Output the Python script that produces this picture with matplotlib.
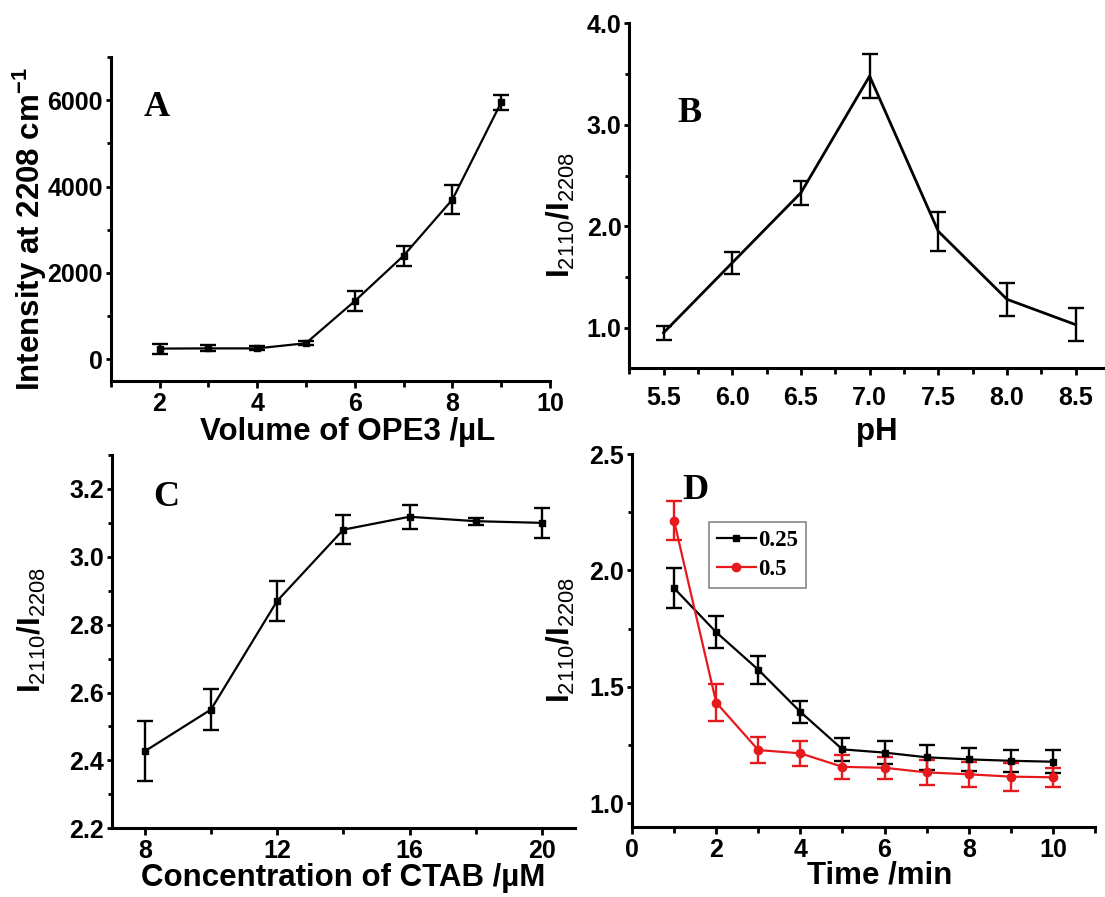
import numpy as np
import matplotlib
matplotlib.use("Agg")
import matplotlib.pyplot as plt
from matplotlib.lines import Line2D
from matplotlib.ticker import MultipleLocator, FormatStrFormatter

plt.rcParams['font.family'] = ['Liberation Sans', 'DejaVu Sans']
plt.rcParams['font.weight'] = 'bold'
plt.rcParams['mathtext.fontset'] = 'custom'
plt.rcParams['mathtext.rm'] = 'Liberation Sans:bold'
plt.rcParams['mathtext.bf'] = 'Liberation Sans:bold'
plt.rcParams['mathtext.it'] = 'Liberation Sans:bold'

# panel A: OPE3 volume
vol = [2, 3, 4, 5, 6, 7, 8, 9]
vol_int = [250, 255, 255, 375, 1350, 2400, 3700, 5950]
vol_err = [115, 70, 45, 40, 240, 230, 330, 170]

# panel B: pH
ph = [5.5, 6.0, 6.5, 7.0, 7.5, 8.0, 8.5]
ph_ratio = [0.95, 1.64, 2.33, 3.48, 1.95, 1.28, 1.03]
ph_err = [0.07, 0.11, 0.12, 0.22, 0.19, 0.16, 0.16]

# panel C: CTAB concentration
ctab = [8, 10, 12, 14, 16, 18, 20]
ctab_ratio = [2.427, 2.55, 2.87, 3.08, 3.118, 3.105, 3.10]
ctab_err = [0.088, 0.06, 0.06, 0.043, 0.035, 0.01, 0.044]

# panel D: time, two series
t = [1, 2, 3, 4, 5, 6, 7, 8, 9, 10]
d025 = [1.924, 1.735, 1.574, 1.393, 1.232, 1.218, 1.198, 1.189, 1.183, 1.179]
d025_err = [0.086, 0.068, 0.06, 0.047, 0.05, 0.048, 0.053, 0.049, 0.048, 0.049]
d05 = [2.213, 1.433, 1.229, 1.215, 1.157, 1.153, 1.133, 1.125, 1.115, 1.112]
d05_err = [0.084, 0.08, 0.055, 0.055, 0.052, 0.047, 0.054, 0.054, 0.06, 0.04]
d_labels = ['0.25', '0.5']
d_colors = ['black', '#e8191c']

W, H = 1105, 897
fig = plt.figure(figsize=(W / 100, H / 100), dpi=100)


def make_ax(x0, x1, y0, y1):
    ax = fig.add_axes([x0 / W, 1 - y1 / H, (x1 - x0) / W, (y1 - y0) / H])
    for s in ['top', 'right']:
        ax.spines[s].set_visible(False)
    for s in ['left', 'bottom']:
        ax.spines[s].set_linewidth(2.2)
    ax.tick_params(which='both', direction='out', width=2, labelsize=18)
    ax.tick_params(axis='x', which='major', length=5, pad=3)
    ax.tick_params(axis='x', which='minor', length=4)
    ax.tick_params(axis='y', which='major', length=3.5, pad=2)
    ax.tick_params(axis='y', which='minor', length=3)
    return ax


ratio_label = r'$\mathbf{I}_{\mathregular{2110}}\mathbf{/I}_{\mathregular{2208}}$'
lab_fs = 22.5
let_fs = 26
serif = ['Liberation Serif', 'DejaVu Serif']
eb = dict(capsize=5.5, capthick=1.7, elinewidth=1.7)

# A
axA = make_ax(110.7, 550, 57, 381)
axA.errorbar(vol, vol_int, yerr=vol_err, color='black', lw=1.6, marker='s', ms=4, **eb)
axA.set_xlim(1, 10)
axA.set_ylim(-500, 7000)
axA.xaxis.set_major_locator(MultipleLocator(2))
axA.xaxis.set_minor_locator(MultipleLocator(1))
axA.yaxis.set_major_locator(MultipleLocator(2000))
axA.yaxis.set_minor_locator(MultipleLocator(1000))
axA.set_xlabel('Volume of OPE3 /µL', fontsize=lab_fs, fontweight='bold')
axA.set_ylabel(r'Intensity at 2208 cm$^{\mathregular{-1}}$', fontsize=lab_fs, fontweight='bold')
axA.xaxis.set_label_coords(0.54, -0.11)
axA.yaxis.set_label_coords(-0.14, 0.47)
axA.text(0.105, 0.843, 'A', transform=axA.transAxes, fontsize=let_fs, fontweight='bold',
         family=serif, ha='center', va='center')

# B
axB = make_ax(629.2, 1110, 23.3, 368.3)
axB.errorbar(ph, ph_ratio, yerr=ph_err, color='black', lw=2, **eb)
axB.set_xlim(5.25, 8.75)
axB.set_ylim(0.6, 4.0)
axB.xaxis.set_major_locator(MultipleLocator(0.5))
axB.xaxis.set_minor_locator(MultipleLocator(0.25))
axB.yaxis.set_major_locator(MultipleLocator(1.0))
axB.yaxis.set_minor_locator(MultipleLocator(0.5))
axB.xaxis.set_major_formatter(FormatStrFormatter('%.1f'))
axB.yaxis.set_major_formatter(FormatStrFormatter('%.1f'))
axB.tick_params(axis='x', which='major', pad=8)
axB.set_xlabel('pH', fontsize=lab_fs, fontweight='bold')
axB.set_ylabel(ratio_label, fontsize=lab_fs)
axB.xaxis.set_label_coords(0.515, -0.14)
axB.yaxis.set_label_coords(-0.1085, 0.444)
axB.text(0.126, 0.74, 'B', transform=axB.transAxes, fontsize=let_fs, fontweight='bold',
         family=serif, ha='center', va='center')

# C
axC = make_ax(111.7, 575, 455, 828.3)
axC.errorbar(ctab, ctab_ratio, yerr=ctab_err, color='black', lw=1.6, marker='s', ms=5, **eb)
axC.set_xlim(7, 21)
axC.set_ylim(2.2, 3.3)
axC.xaxis.set_major_locator(MultipleLocator(4))
axC.xaxis.set_minor_locator(MultipleLocator(2))
axC.yaxis.set_major_locator(MultipleLocator(0.2))
axC.yaxis.set_minor_locator(MultipleLocator(0.1))
axC.yaxis.set_major_formatter(FormatStrFormatter('%.1f'))
axC.set_xlabel('Concentration of CTAB /µM', fontsize=lab_fs, fontweight='bold')
axC.set_ylabel(ratio_label, fontsize=lab_fs)
axC.xaxis.set_label_coords(0.499, -0.092)
axC.yaxis.set_label_coords(-0.1375, 0.531)
axC.text(0.117, 0.887, 'C', transform=axC.transAxes, fontsize=let_fs, fontweight='bold',
         family=serif, ha='center', va='center')

# D
axD = make_ax(632, 1095, 454, 826.7)
axD.errorbar(t, d025, yerr=d025_err, color=d_colors[0], lw=1.6, marker='s', ms=5, **eb)
axD.errorbar(t, d05, yerr=d05_err, color=d_colors[1], lw=1.6, marker='o', ms=6, **eb)
axD.set_xlim(0, 11)
axD.set_ylim(0.9, 2.5)
axD.xaxis.set_major_locator(MultipleLocator(2))
axD.xaxis.set_minor_locator(MultipleLocator(1))
axD.yaxis.set_major_locator(MultipleLocator(0.5))
axD.yaxis.set_minor_locator(MultipleLocator(0.25))
axD.yaxis.set_major_formatter(FormatStrFormatter('%.1f'))
axD.set_xlabel('Time /min', fontsize=lab_fs, fontweight='bold')
axD.set_ylabel(ratio_label, fontsize=lab_fs)
axD.xaxis.set_label_coords(0.536, -0.092)
axD.yaxis.set_label_coords(-0.119, 0.5)
axD.text(0.136, 0.903, 'D', transform=axD.transAxes, fontsize=let_fs, fontweight='bold',
         family=serif, ha='center', va='center')
handles = [Line2D([], [], color=d_colors[0], lw=1.6, marker='s', ms=5),
           Line2D([], [], color=d_colors[1], lw=1.6, marker='o', ms=6)]
leg = axD.legend(handles, d_labels, loc='upper left', bbox_to_anchor=(0.166, 0.818),
                 borderaxespad=0, fancybox=False, framealpha=1, edgecolor='#888888',
                 handlelength=1.7, handletextpad=0.1, borderpad=0.35, labelspacing=0.35,
                 prop={'family': serif, 'weight': 'bold', 'size': 16.5})
leg.get_frame().set_linewidth(1.2)

fig.savefig('out.png', dpi=100)
